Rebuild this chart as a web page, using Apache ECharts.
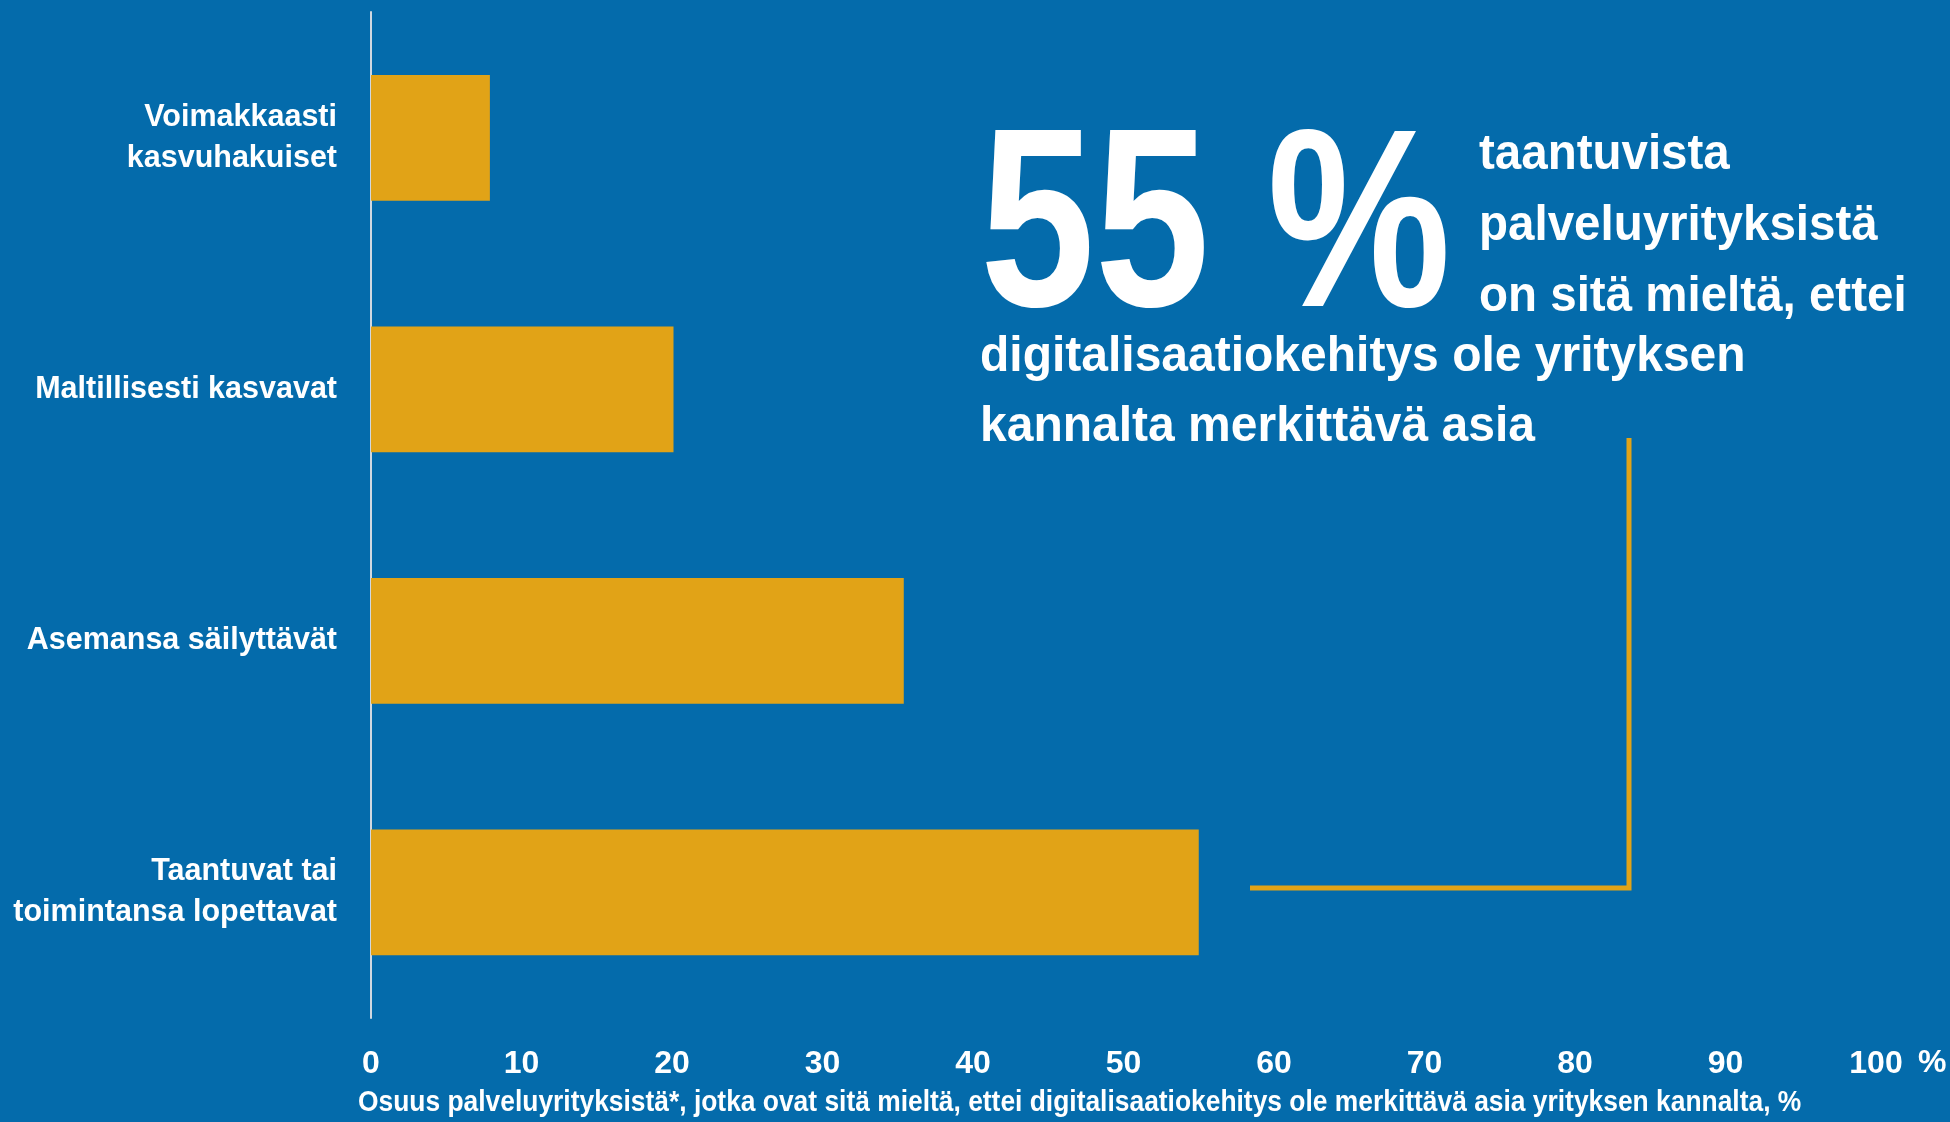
<!DOCTYPE html>
<html>
<head>
<meta charset="utf-8">
<script src="https://cdn.jsdelivr.net/npm/echarts@6/dist/echarts.min.js"></script>
<style>
html,body{margin:0;padding:0;background:#046BAB;}
#c{width:1950px;height:1122px;}
</style>
</head>
<body>
<div id="c"></div>
<script>
const categories = ['Voimakkaasti\nkasvuhakuiset', 'Maltillisesti kasvavat', 'Asemansa säilyttävät', 'Taantuvat tai\ntoimintansa lopettavat'];
const values = [7.9, 20.1, 35.4, 55];
const xTicks = [0, 10, 20, 30, 40, 50, 60, 70, 80, 90, 100];
const axisCaption = 'Osuus palveluyrityksistä*, jotka ovat sitä mieltä, ettei digitalisaatiokehitys ole merkittävä asia yrityksen kannalta, %';
const bigNumber = '55 %';
const sideText = ['taantuvista', 'palveluyrityksistä', 'on sitä mieltä, ettei'];
const bottomText = ['digitalisaatiokehitys ole yrityksen', 'kannalta merkittävä asia'];

const FONT = '"Liberation Sans", Arial, sans-serif';
const GOLD = '#E1A317';
const chart = echarts.init(document.getElementById('c'));
chart.setOption({
  backgroundColor: '#046BAB',
  animation: false,
  grid: { left: 371, width: 1505, top: 12, height: 1006, containLabel: false, outerBoundsMode: 'none' },
  xAxis: {
    type: 'value', min: 0, max: 100, interval: 10,
    axisLine: { show: false }, axisTick: { show: false }, splitLine: { show: false },
    axisLabel: { color: '#fff', fontFamily: FONT, fontWeight: 'bold', fontSize: 32, margin: 30,
      formatter: v => xTicks.indexOf(v) >= 0 ? String(v) : '' }
  },
  yAxis: {
    type: 'category', data: categories, inverse: true,
    axisLine: { show: true, lineStyle: { color: '#D0D8E0', width: 2 } },
    axisTick: { show: false },
    axisLabel: { color: '#fff', fontFamily: FONT, fontWeight: 'bold', fontSize: 30.5, lineHeight: 41, margin: 34, align: 'right' }
  },
  series: [{
    type: 'bar', data: values, barCategoryGap: '50%',
    itemStyle: { color: GOLD }
  }],
  graphic: [
    { type: 'text', x: 1918, y: 1047, style: { text: '%', fill: '#fff', font: 'bold 32px ' + FONT } },
    { type: 'text', x: 358, y: 1088, scaleX: 0.91, style: { text: axisCaption, fill: '#fff', font: 'bold 29px ' + FONT } },
    { type: 'text', x: 980, y: 108, scaleX: 0.81, style: { text: bigNumber, fill: '#fff', font: 'bold 255px ' + FONT } },
    { type: 'text', x: 1479, y: 120, scaleX: 0.95, style: { text: sideText.join('\n'), fill: '#fff', font: 'bold 50px ' + FONT, lineHeight: 71 } },
    { type: 'text', x: 980, y: 322, scaleX: 0.96, style: { text: bottomText.join('\n'), fill: '#fff', font: 'bold 50px ' + FONT, lineHeight: 70 } },
    { type: 'polyline', shape: { points: [[1250, 888], [1629, 888], [1629, 438]] },
      style: { stroke: GOLD, lineWidth: 5, fill: null } }
  ]
});
</script>
</body>
</html>
